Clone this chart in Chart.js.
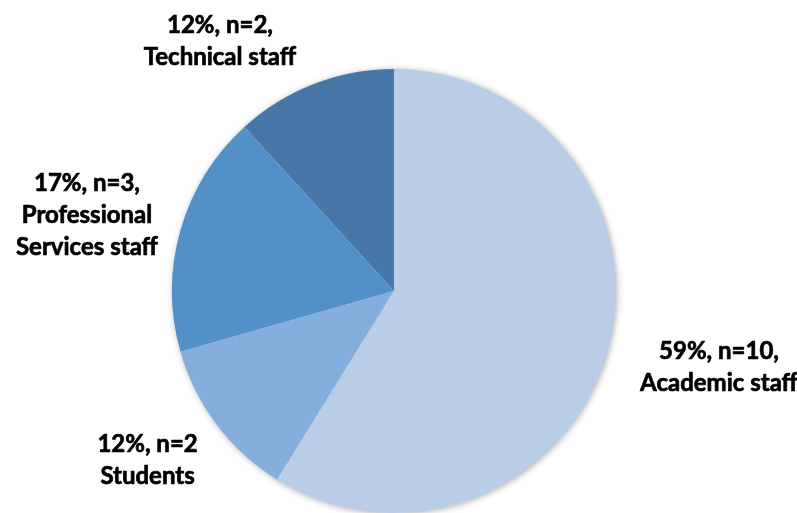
<!DOCTYPE html>
<html>
<head>
<meta charset="utf-8">
<script src="https://cdn.jsdelivr.net/npm/chart.js@4/dist/chart.umd.min.js"></script>
<style>
  html, body { margin: 0; padding: 0; background: #ffffff; }
  #wrap { width: 797px; height: 513px; position: relative; }
</style>
</head>
<body>
<div id="wrap"><canvas id="c" width="797" height="513"></canvas></div>
<script>
// ---- data ----
const categories = ['Academic staff', 'Students', 'Professional\nServices staff', 'Technical staff'];
const counts = [10, 2, 3, 2];
const percents = [59, 12, 17, 12];
const countSuffix = [',', '', ',', ','];
const colors = ['#b9cde6', '#84aedb', '#5490c8', '#4677a7'];

// label placement relative to pie centre, in units of the radius
const labelOffsets = [[1.464, 0.342], [-1.110, 0.761], [-1.383, -0.342], [-0.784, -1.126]];

const shadowPlugin = {
  id: 'pieShadow',
  beforeDatasetsDraw(chart) {
    const meta = chart.getDatasetMeta(0);
    if (!meta.data.length) return;
    const a = meta.data[0];
    const ctx = chart.ctx;
    ctx.save();
    ctx.shadowColor = 'rgba(0,0,0,0.35)';
    ctx.shadowBlur = 7;
    ctx.shadowOffsetX = 1;
    ctx.shadowOffsetY = 1;
    ctx.fillStyle = '#ffffff';
    ctx.beginPath();
    ctx.arc(a.x, a.y, a.outerRadius - 0.5, 0, Math.PI * 2);
    ctx.fill();
    ctx.restore();
  }
};

const labelPlugin = {
  id: 'sliceLabels',
  afterDatasetsDraw(chart) {
    const meta = chart.getDatasetMeta(0);
    const ctx = chart.ctx;
    const fontSize = 24, lh = 32, capH = 16.5;
    ctx.save();
    ctx.font = 'bold ' + fontSize + 'px Lato, "Open Sans", sans-serif';
    ctx.fillStyle = '#000000';
    ctx.strokeStyle = '#000000';
    ctx.lineWidth = 0.7;
    ctx.lineJoin = 'round';
    ctx.textAlign = 'center';
    ctx.textBaseline = 'alphabetic';
    meta.data.forEach((arc, i) => {
      const r = arc.outerRadius;
      const cx = arc.x + labelOffsets[i][0] * r;
      const cy = arc.y + labelOffsets[i][1] * r;
      const lines = [percents[i] + '%, n=' + counts[i] + countSuffix[i]].concat(categories[i].split('\n'));
      const n = lines.length;
      lines.forEach((t, k) => {
        const y = cy - (n - 1) * lh / 2 + k * lh + capH / 2;
        ctx.fillText(t, cx, y);
        ctx.strokeText(t, cx, y);
      });
    });
    ctx.restore();
  }
};

new Chart(document.getElementById('c'), {
  type: 'pie',
  data: {
    labels: categories,
    datasets: [{
      data: counts,
      backgroundColor: colors,
      borderWidth: 0
    }]
  },
  options: {
    responsive: false,
    animation: false,
    layout: { padding: { top: 69, bottom: 0, left: 0, right: 9 } },
    plugins: {
      legend: { display: false },
      tooltip: { enabled: false },
      title: { display: false }
    }
  },
  plugins: [shadowPlugin, labelPlugin]
});
</script>
</body>
</html>
